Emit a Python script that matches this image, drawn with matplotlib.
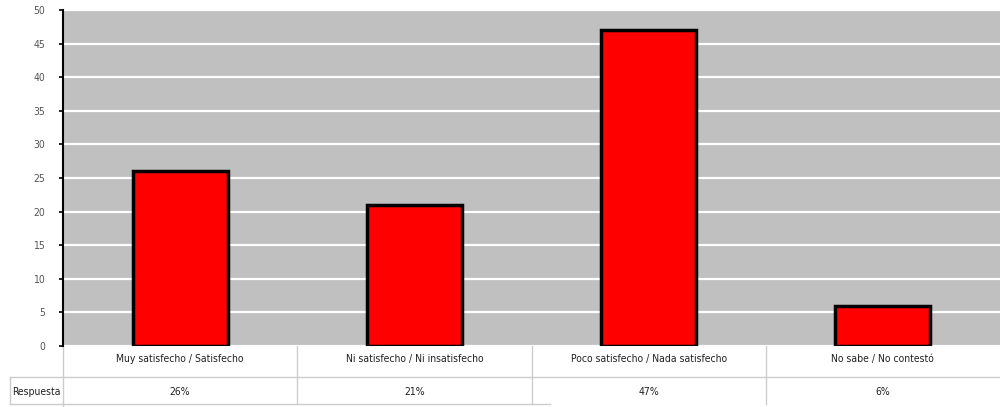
import matplotlib.pyplot as plt
from matplotlib.transforms import blended_transform_factory

categories = ["Muy satisfecho / Satisfecho", "Ni satisfecho / Ni insatisfecho",
              "Poco satisfecho / Nada satisfecho", "No sabe / No contestó"]
values = [26, 21, 47, 6]
pct_labels = ["26%", "21%", "47%", "6%"]
row_label = "Respuesta"

plt.rcParams['font.family'] = ['Liberation Sans Narrow', 'DejaVu Sans']
plt.rcParams['font.stretch'] = 'condensed'

fig = plt.figure(figsize=(10, 4.07), dpi=100)
ax = fig.add_axes([0.063, 0.150, 0.937, 0.8256])
ax.set_facecolor('#c0c0c0')

x = list(range(len(categories)))
ax.bar(x, values, width=0.405, color='#ff0000', edgecolor='black', linewidth=2.5, zorder=3)

ax.set_xlim(-0.5, 3.5)
ax.set_ylim(0, 50)
ax.set_yticks(range(0, 51, 5))
ax.yaxis.grid(True, color='white', linewidth=1.6, zorder=1)
ax.set_axisbelow(True)
ax.tick_params(axis='y', labelsize=7.5, labelcolor='#555555', length=3, width=1.2, pad=10)
ax.set_xticks(x)
ax.set_xticklabels(categories, fontsize=7.5, color='#222222')
ax.tick_params(axis='x', length=0, pad=6)

for s in ['top', 'right', 'bottom']:
    ax.spines[s].set_visible(False)
ax.spines['left'].set_linewidth(1.5)

# table below the chart
grid_c = '#cccccc'
tr = blended_transform_factory(ax.transData, ax.transAxes)
y_mid = -0.0923
y_bot = -0.1726
x_left = -0.0566
ax.plot([x_left, 1.0], [y_mid, y_mid], transform=ax.transAxes, color=grid_c, lw=1, clip_on=False)
ax.plot([x_left, 0.52], [y_bot, y_bot], transform=ax.transAxes, color=grid_c, lw=1, clip_on=False)
ax.plot([x_left, x_left], [y_mid, y_bot], transform=ax.transAxes, color=grid_c, lw=1, clip_on=False)
ax.plot([0, 0], [0, -0.19], transform=ax.transAxes, color=grid_c, lw=1, clip_on=False)
for b in [0.5, 1.5, 2.5]:
    ax.plot([b, b], [0, y_bot], transform=tr, color=grid_c, lw=1, clip_on=False)

ax.text(x_left + 0.002, (y_mid + y_bot) / 2 - 0.005, row_label, transform=ax.transAxes,
        fontsize=7.5, ha='left', va='center', color='#222222')
for xi, p in zip(x, pct_labels):
    ax.text(xi, (y_mid + y_bot) / 2 - 0.005, p, transform=tr, fontsize=7.5,
            ha='center', va='center', color='#222222')

fig.savefig('out.png', dpi=100)
